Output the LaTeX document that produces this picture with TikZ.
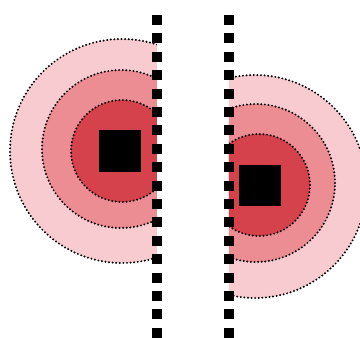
\documentclass[tikz,border=0pt]{standalone}
\definecolor{ringout}{RGB}{247,203,208}
\definecolor{ringmid}{RGB}{236,140,147}
\definecolor{ringin}{RGB}{214,66,76}
\tikzset{
  dotring/.style={draw=black, line width=2.2pt, line cap=round, dash pattern=on 0pt off 3.6pt},
  wall/.style={draw=black, line width=10.5pt, dash pattern=on 10pt off 8.4pt},
  core/.style={fill=black}
}
\begin{document}
\begin{tikzpicture}[x=1pt,y=-1pt]
\useasboundingbox (0,0) rectangle (360,338);
\clip (0,0) rectangle (360,338);
% left field
\begin{scope}
\clip (0,0) rectangle (157,338);
\fill[ringout] (122,151) circle[radius=112pt];
\draw[dotring] (122,151) circle[radius=112pt];
\fill[ringmid] (121,149) circle[radius=79pt];
\draw[dotring] (121,149) circle[radius=79pt];
\fill[ringin] (122,151) circle[radius=51pt];
\draw[dotring] (122,151) circle[radius=51pt];
\end{scope}
% right field
\begin{scope}
\clip (229,0) rectangle (360,338);
\fill[ringout] (255,186.5) circle[radius=111.5pt];
\draw[dotring] (255,186.5) circle[radius=111.5pt];
\fill[ringmid] (256,183) circle[radius=79pt];
\draw[dotring] (256,183) circle[radius=79pt];
\fill[ringin] (259,185) circle[radius=51pt];
\draw[dotring] (259,185) circle[radius=51pt];
\end{scope}
% charges
\fill[core] (99,130) rectangle (141,172);
\fill[core] (239,165) rectangle (281,206);
% walls
\coordinate (lt) at (157,15);
\coordinate (lb) at (157,338);
\coordinate (rt) at (229,15);
\coordinate (rb) at (229,338);
\draw[wall] (lt) -- (lb);
\draw[wall] (rt) -- (rb);
\end{tikzpicture}
\end{document}
